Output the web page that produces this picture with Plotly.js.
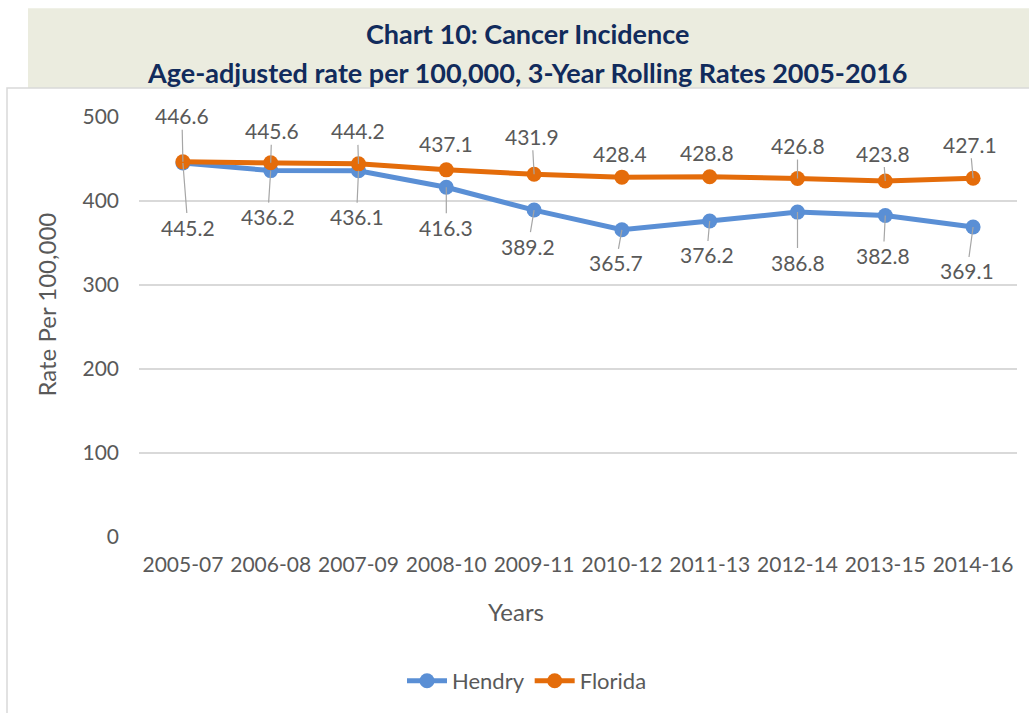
<!DOCTYPE html>
<html>
<head>
<meta charset="utf-8">
<script src="https://cdn.plot.ly/plotly-3.0.1.min.js"></script>
<style>html,body{margin:0;padding:0;background:#fff;}#chart{width:1029px;height:713px;}</style>
</head>
<body>
<div id="chart"></div>
<script>
const periods = ["2005-07","2006-08","2007-09","2008-10","2009-11","2010-12","2011-13","2012-14","2013-15","2014-16"];
const hendry = [445.2, 436.2, 436.1, 416.3, 389.2, 365.7, 376.2, 386.8, 382.8, 369.1];
const florida = [446.6, 445.6, 444.2, 437.1, 431.9, 428.4, 428.8, 426.8, 423.8, 427.1];
const yTicks = [0, 100, 200, 300, 400, 500];

// label placement offsets (pixels) for data labels
const floridaOffX = [-1, 1, -1, 0, -2, -2, -3, 0, -2, -3];
const floridaOffY = [-46, -32, -33, -26, -38, -24, -24, -33, -28, -34];
const floridaLeader = [true, true, true, false, true, false, false, true, true, true];
const hendryOffX = [5, -3, -2, 0, -6, -6, -3, 0, -2, -6];
const hendryOffY = [64, 46, 46, 40, 36, 33, 34, 50, 40, 44];
const hendryLeader = [true, true, true, true, true, true, true, true, true, true];

const W = 1029, H = 713;
const L = 139, R = 1017, T = 117, B = 538;
const px = x => (x - L) / (R - L);
const py = y => (B - y) / (B - T);

const FONT = "Lato, 'Open Sans', sans-serif";
const GRAY = "#595959";
const NAVY = "#112B5C";
const BLUE = "#5A8FD5";
const ORANGE = "#E46C0A";

const traces = [
  {x: periods, y: hendry, name: "Hendry", type: "scatter", mode: "lines+markers",
   line: {color: BLUE, width: 5}, marker: {color: BLUE, size: 15}},
  {x: periods, y: florida, name: "Florida", type: "scatter", mode: "lines+markers",
   line: {color: ORANGE, width: 5}, marker: {color: ORANGE, size: 15}}
];

const annotations = [];
function addLabels(vals, offX, offY, leader) {
  vals.forEach((v, i) => {
    annotations.push({
      x: periods[i], y: v, xref: "x", yref: "y",
      text: v.toFixed(1), showarrow: leader[i], arrowhead: 0, arrowwidth: 1.2,
      arrowcolor: "#A6A6A6", standoff: 0,
      ax: offX[i], ay: offY[i], axref: "pixel", ayref: "pixel",
      xshift: leader[i] ? 0 : offX[i], yshift: leader[i] ? 0 : -offY[i],
      font: {family: FONT, size: 21, color: GRAY}
    });
  });
}
addLabels(florida, floridaOffX, floridaOffY, floridaLeader);
addLabels(hendry, hendryOffX, hendryOffY, hendryLeader);

annotations.push(
  {xref: "paper", yref: "paper", x: px(527), y: py(33), text: "<b>Chart 10: Cancer Incidence</b>",
   showarrow: false, xanchor: "center", yanchor: "middle", font: {family: FONT, size: 27, color: NAVY}},
  {xref: "paper", yref: "paper", x: px(527), y: py(72), text: "<b>Age-adjusted rate per 100,000, 3-Year Rolling Rates 2005-2016</b>",
   showarrow: false, xanchor: "center", yanchor: "middle", font: {family: FONT, size: 27, color: NAVY}},
  {xref: "paper", yref: "paper", x: px(47), y: py(305), text: "Rate Per 100,000", textangle: -90,
   showarrow: false, xanchor: "center", yanchor: "middle", font: {family: FONT, size: 24, color: GRAY}},
  {xref: "paper", yref: "paper", x: px(516), y: py(613), text: "Years",
   showarrow: false, xanchor: "center", yanchor: "middle", font: {family: FONT, size: 24, color: GRAY}}
);

const layout = {
  width: W, height: H,
  margin: {l: L, r: W - R, t: T, b: H - B},
  paper_bgcolor: "#ffffff", plot_bgcolor: "#ffffff",
  showlegend: true,
  legend: {orientation: "h", x: px(527), xanchor: "center", y: py(681), yanchor: "middle",
           font: {family: FONT, size: 22, color: GRAY}, itemwidth: 40, traceorder: "normal"},
  xaxis: {type: "category", range: [-0.5, 9.5], showgrid: false, zeroline: false, showline: false,
          ticks: "", ticklabelstandoff: 13, tickfont: {family: FONT, size: 21, color: GRAY}, fixedrange: true},
  yaxis: {range: [0, 500], tickvals: yTicks, showgrid: true, gridcolor: "#D9D9D9", gridwidth: 1.5,
          zeroline: false, showline: false, ticks: "", ticklabelstandoff: 19,
          tickfont: {family: FONT, size: 21, color: GRAY}, fixedrange: true},
  shapes: [
    {type: "rect", xref: "paper", yref: "paper", x0: px(28), x1: px(1040), y0: py(8), y1: py(88),
     fillcolor: "#EBECDF", line: {width: 0}, layer: "below"},
    {type: "rect", xref: "paper", yref: "paper", x0: px(7), x1: px(1060), y0: py(88), y1: py(760),
     fillcolor: "rgba(0,0,0,0)", line: {color: "#D9D9D9", width: 1.5}, layer: "below"}
  ],
  annotations: annotations
};

Plotly.newPlot("chart", traces, layout, {displayModeBar: false, staticPlot: true});
</script>
</body>
</html>
